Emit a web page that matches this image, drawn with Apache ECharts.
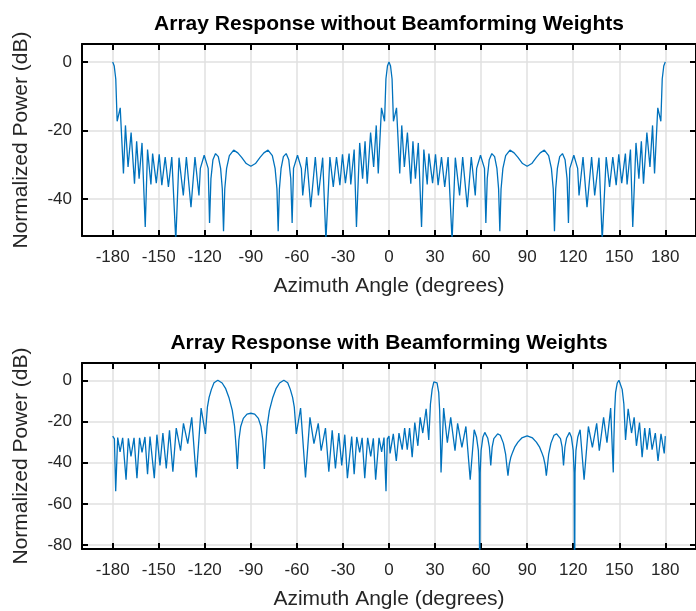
<!DOCTYPE html>
<html><head><meta charset="utf-8">
<script src="https://cdn.jsdelivr.net/npm/echarts@6/dist/echarts.min.js"></script>
<style>html,body{margin:0;padding:0;background:#fff}#c{width:696px;height:611px}</style>
</head><body><div id="c"></div>
<script>
// ---- data ----
const xTickValues = [-180,-150,-120,-90,-60,-30,0,30,60,90,120,150,180];
const topYTickValues = [-40,-20,0];
const bottomYTickValues = [-80,-60,-40,-20,0];
const titles = ['Array Response without Beamforming Weights','Array Response with Beamforming Weights'];
const xLabelText = 'Azimuth Angle (degrees)';
const yLabelText = 'Normalized Power (dB)';

// [azimuth deg, normalized power dB]
const topResponse = [
[-180,0],[-179,-1.2],[-178,-5],[-177.1,-17.3],[-175.1,-13.4],[-173,-32.5],[-171.7,-18.5],[-170,-30.6],[-168,-20.6],[-165.8,-35.5],[-164.4,-23.1],[-162.8,-34],[-160.9,-23.6],[-158.8,-48.1],[-157.3,-25.5],[-155.1,-35.7],[-154,-26.7],[-151.6,-35.3],[-149.7,-26.9],[-148,-35.9],[-145.8,-27.7],[-143.7,-36.4],[-141.5,-27.7],[-138.9,-52],[-136.8,-27.9],[-134,-38.9],[-132,-27.7],[-129,-42.3],[-126.4,-27.7],[-123.8,-38.9],[-122.9,-31],[-120.4,-27.2],[-117.8,-31],[-116.9,-46.9],[-116,-34],[-114.7,-28.5],[-113,-26.7],[-111.2,-27.6],[-109.7,-31],[-108.6,-37],[-107.8,-49.3],[-107,-37],[-105.8,-31],[-104,-27.3],[-101.2,-25.7],[-98.5,-26.5],[-96,-27.8],[-93,-29.6],[-90,-30.4],
[-87,-29.6],[-84,-27.8],[-81.5,-26.5],[-78.8,-25.7],[-76,-27.3],[-74.2,-31],[-73,-37],[-72.2,-49.3],[-71.4,-37],[-70.3,-31],[-68.8,-27.6],[-67,-26.7],[-65.3,-28.5],[-64,-34],[-63.1,-46.9],[-62.2,-31],[-59.6,-27.2],[-57.1,-31],[-56.2,-38.9],[-53.6,-27.7],[-51,-42.3],[-48,-27.7],[-46,-38.9],[-43.2,-27.9],[-41.1,-52],[-38.5,-27.7],[-36.3,-36.4],[-34.2,-27.7],[-32,-35.9],[-30.3,-26.9],[-28.4,-35.3],[-26,-26.7],[-24.9,-35.7],[-22.7,-25.5],[-21.2,-48.1],[-19.1,-23.6],[-17.2,-34],[-15.6,-23.1],[-14.2,-35.5],[-12,-20.6],[-10,-30.6],[-8.3,-18.5],[-7,-32.5],[-4.9,-13.4],[-2.9,-17.3],[-2,-5],[-1,-1.2],[0,0],
[1,-1.2],[2,-5],[2.9,-17.3],[4.9,-13.4],[7,-32.5],[8.3,-18.5],[10,-30.6],[12,-20.6],[14.2,-35.5],[15.6,-23.1],[17.2,-34],[19.1,-23.6],[21.2,-48.1],[22.7,-25.5],[24.9,-35.7],[26,-26.7],[28.4,-35.3],[30.3,-26.9],[32,-35.9],[34.2,-27.7],[36.3,-36.4],[38.5,-27.7],[41.1,-52],[43.2,-27.9],[46,-38.9],[48,-27.7],[51,-42.3],[53.6,-27.7],[56.2,-38.9],[57.1,-31],[59.6,-27.2],[62.2,-31],[63.1,-46.9],[64,-34],[65.3,-28.5],[67,-26.7],[68.8,-27.6],[70.3,-31],[71.4,-37],[72.2,-49.3],[73,-37],[74.2,-31],[76,-27.3],[78.8,-25.7],[81.5,-26.5],[84,-27.8],[87,-29.6],[90,-30.4],
[93,-29.6],[96,-27.8],[98.5,-26.5],[101.2,-25.7],[104,-27.3],[105.8,-31],[107,-37],[107.8,-49.3],[108.6,-37],[109.7,-31],[111.2,-27.6],[113,-26.7],[114.7,-28.5],[116,-34],[116.9,-46.9],[117.8,-31],[120.4,-27.2],[122.9,-31],[123.8,-38.9],[126.4,-27.7],[129,-42.3],[132,-27.7],[134,-38.9],[136.8,-27.9],[138.9,-52],[141.5,-27.7],[143.7,-36.4],[145.8,-27.7],[148,-35.9],[149.7,-26.9],[151.6,-35.3],[154,-26.7],[155.1,-35.7],[157.3,-25.5],[158.8,-48.1],[160.9,-23.6],[162.8,-34],[164.4,-23.1],[165.8,-35.5],[168,-20.6],[170,-30.6],[171.7,-18.5],[173,-32.5],[175.1,-13.4],[177.1,-17.3],[178,-5],[179,-1.2],[180,0]
];

const bottomResponse = [
[-180,-27.1],[-178.9,-28.4],[-178.05,-53.8],[-176.75,-27.8],[-175.2,-34.7],[-173.5,-27.9],[-171.3,-48.3],[-169.8,-28.2],[-168.1,-36.9],[-166.1,-27.9],[-164.2,-47.5],[-162.5,-27.9],[-160.9,-35],[-159,-27.5],[-157.3,-45.6],[-155.7,-27.3],[-152.9,-47.5],[-151.2,-26.4],[-149.2,-41.3],[-147.3,-25.6],[-145.1,-42.8],[-143,-24.3],[-140.8,-44.4],[-138.6,-23.2],[-135.8,-34.2],[-133.9,-20.9],[-131.1,-30.7],[-128.5,-18],[-125.6,-47.2],[-122.4,-13.5],[-119.6,-26],[-118.3,-13],[-117.2,-8.3],[-115.7,-4.4],[-114,-1.2],[-111.5,0],[-108.7,-1.3],[-106.5,-3.9],[-104.3,-8.3],[-102.1,-14.6],[-100.6,-22.4],[-99.5,-33.4],[-98.8,-43.1],[-97.8,-29],[-96.6,-22.4],[-94.9,-18.5],[-92.5,-16.4],[-90,-16],
[-87.5,-16.4],[-85.1,-18.5],[-83.4,-22.4],[-82.2,-29],[-81.2,-43.1],[-80.5,-33.4],[-79.4,-22.4],[-77.9,-14.6],[-75.7,-8.3],[-73.5,-3.9],[-71.3,-1.3],[-68.5,0],[-66,-1.2],[-64.3,-4.4],[-62.8,-8.3],[-61.7,-13],[-60.4,-26],[-57.6,-13.5],[-54.4,-47.2],[-51.5,-18],[-48.9,-30.7],[-46.1,-20.9],[-44.2,-34.2],[-41.4,-23.2],[-39.2,-44.4],[-37,-24.3],[-34.9,-42.8],[-32.7,-25.6],[-30.8,-41.3],[-28.8,-26.4],[-27.1,-47.5],[-24.3,-27.3],[-22.7,-45.6],[-21,-27.5],[-19.1,-35],[-17.5,-27.9],[-15.8,-47.5],[-13.9,-27.9],[-11.9,-36.9],[-10.2,-28.2],[-8.7,-48.3],[-6.5,-27.9],[-4.8,-34.7],[-3.25,-27.8],[-1.95,-53.8],[-1.1,-28.4],[0,-27.1],
[0.7,-35.5],[2.8,-26],[4.75,-39.2],[6.5,-25.6],[8.6,-33.7],[10.2,-23.2],[11.9,-33.7],[13.4,-23.2],[15.1,-37.3],[16.8,-20.5],[18.8,-31.8],[20.3,-18],[22,-25.6],[24.2,-13.8],[25.9,-29],[27,-11.5],[28.1,-4.4],[29.2,-0.8],[30.2,0],[31.3,-1.3],[32.4,-6],[33,-14.6],[33.5,-28.7],[33.9,-44.7],[35.6,-13.5],[38,-30.3],[40.2,-18],[43,-34.2],[44.7,-20.9],[47.5,-32.6],[50.1,-22.4],[52.9,-48.3],[55.5,-24],[57,-27.5],[58.2,-34],[58.8,-45],[59.1,-110],[59.4,-45],[60,-34],[61.2,-27.5],[62.4,-25.3],[64.3,-28],[65.4,-32.5],[66.3,-41.3],[67.2,-32.5],[68.3,-28.3],[70.8,-26],[72.5,-26.7],[74.5,-30.5],[76,-36],[76.8,-41.7],[77.5,-46.3],[78.3,-41],[79.3,-37.5],[80.5,-35],[82,-32.3],[84,-30],[86.5,-28],[90,-27],
[93.5,-28],[96,-30],[98,-32.3],[99.5,-35],[100.7,-37.5],[101.7,-41],[102.5,-46.3],[103.2,-41.7],[104,-36],[105.5,-30.5],[107.5,-26.7],[109.2,-26],[111.7,-28.3],[112.8,-32.5],[113.7,-41.3],[114.6,-32.5],[115.7,-28],[117.6,-25.3],[118.8,-27.5],[120,-34],[120.6,-45],[120.9,-110],[121.2,-45],[121.8,-34],[123,-27.5],[124.5,-24],[127.1,-48.3],[129.9,-22.4],[132.5,-32.6],[135.3,-20.9],[137,-34.2],[139.8,-18],[142,-30.3],[144.4,-13.5],[146.1,-44.7],[146.5,-28.7],[147,-14.6],[147.6,-6],[148.7,-1.3],[149.8,0],[150.8,-0.8],[151.9,-4.4],[153,-11.5],[154.1,-29],[155.8,-13.8],[158,-25.6],[159.7,-18],[161.2,-31.8],[163.2,-20.5],[164.9,-37.3],[166.6,-23.2],[168.1,-33.7],[169.8,-23.2],[171.4,-33.7],[173.5,-25.6],[175.25,-39.2],[177.2,-26],[179.3,-35.5],[180,-27.1]
];

// ---- rendering ----
const FONT = '"Liberation Sans", Arial, Helvetica, sans-serif';
const TXT = '#262626';
const GRID_LINE = '#e1e1e1';
const axisLineStyle = { color: '#000', width: 2 };
const tickStyle = { color: '#000', width: 2 };

function makeXAxes(gi) {
  return [
    {
      type: 'value', gridIndex: gi, position: 'bottom', min: -200, max: 200,
      axisLine: { show: true, onZero: false, lineStyle: axisLineStyle },
      axisTick: { show: true, inside: true, length: 6, lineStyle: tickStyle, customValues: xTickValues },
      axisLabel: { show: true, customValues: xTickValues, margin: 13, fontSize: 17, color: TXT, fontFamily: FONT },
      splitLine: { show: true, lineStyle: { color: GRID_LINE, width: 1.5 } },
      name: xLabelText, nameLocation: 'middle', nameGap: 40,
      nameTextStyle: { fontSize: 21, color: TXT, fontFamily: FONT }
    },
    {
      type: 'value', gridIndex: gi, position: 'top', min: -200, max: 200,
      axisLine: { show: true, onZero: false, lineStyle: axisLineStyle },
      axisTick: { show: true, inside: true, length: 6, lineStyle: tickStyle, customValues: xTickValues },
      axisLabel: { show: false },
      splitLine: { show: false },
      name: titles[gi], nameLocation: 'middle', nameGap: 9,
      nameTextStyle: { fontSize: 21, fontWeight: 'bold', color: '#000', fontFamily: FONT }
    }
  ];
}
function makeYAxes(gi, min, max, ticks) {
  return [
    {
      type: 'value', gridIndex: gi, position: 'left', min: min, max: max,
      axisLine: { show: true, onZero: false, lineStyle: axisLineStyle },
      axisTick: { show: true, inside: true, length: 6, lineStyle: tickStyle, customValues: ticks },
      axisLabel: { show: true, customValues: ticks, margin: 10, fontSize: 17, color: TXT, fontFamily: FONT },
      splitLine: { show: true, lineStyle: { color: GRID_LINE, width: 1.5 } },
      name: yLabelText, nameLocation: 'middle', nameRotate: 90, nameGap: 50,
      nameTextStyle: { fontSize: 21, color: TXT, fontFamily: FONT }
    },
    {
      type: 'value', gridIndex: gi, position: 'right', min: min, max: max,
      axisLine: { show: true, onZero: false, lineStyle: axisLineStyle },
      axisTick: { show: true, inside: true, length: 6, lineStyle: tickStyle, customValues: ticks },
      axisLabel: { show: false },
      splitLine: { show: false }
    }
  ];
}

const chart = echarts.init(document.getElementById('c'), null, { renderer: 'canvas' });
chart.setOption({
  animation: false,
  backgroundColor: '#ffffff',
  grid: [
    { left: 82, top: 44, width: 618, height: 192 },
    { left: 82, top: 363, width: 618, height: 191 }
  ],
  xAxis: [...makeXAxes(0), ...makeXAxes(1)],
  yAxis: [...makeYAxes(0, -50.7, 5.2, topYTickValues), ...makeYAxes(1, -81.9, 8.4, bottomYTickValues)],
  series: [
    { type: 'line', xAxisIndex: 0, yAxisIndex: 0, data: topResponse, showSymbol: false, symbol: 'none', clip: true,
      lineStyle: { color: '#0072BD', width: 1.3 }, z: 5 },
    { type: 'line', xAxisIndex: 2, yAxisIndex: 2, data: bottomResponse, showSymbol: false, symbol: 'none', clip: true,
      lineStyle: { color: '#0072BD', width: 1.3 }, z: 5 }
  ]
});
</script></body></html>
